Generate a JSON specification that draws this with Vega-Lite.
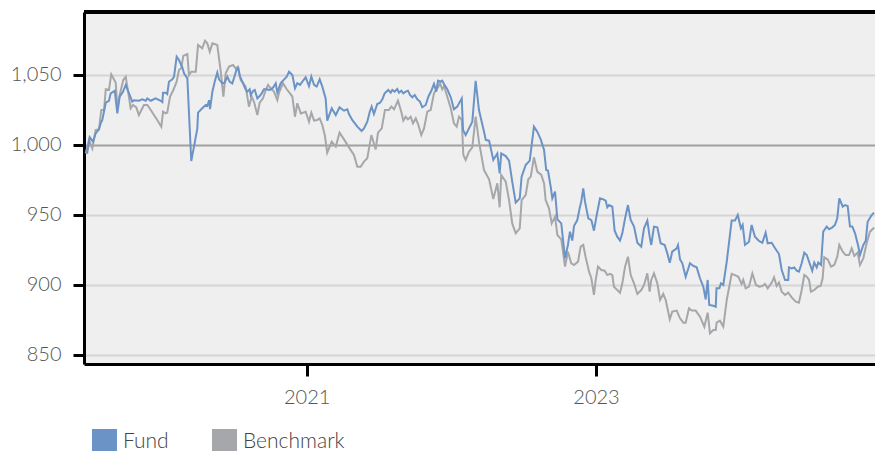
{
"$schema": "https://vega.github.io/schema/vega-lite/v6.json",
"width": 791, "height": 352,
"autosize": {"type": "none"},
"padding": {"left": 84, "top": 12, "right": 0, "bottom": 87},
"background": "#ffffff",
"config": {"view": {"fill": "#efefef", "stroke": null}, "font": "Lato"},
"data": {"values": [
{"s":"Benchmark","t":2019.472,"v":994},{"s":"Benchmark","t":2019.495,"v":1003.6},{"s":"Benchmark","t":2019.518,"v":997.6},{"s":"Benchmark","t":2019.541,"v":1010.7},{"s":"Benchmark","t":2019.564,"v":1011.2},{"s":"Benchmark","t":2019.580,"v":1025},{"s":"Benchmark","t":2019.599,"v":1025},{"s":"Benchmark","t":2019.611,"v":1039.8},{"s":"Benchmark","t":2019.633,"v":1039.3},{"s":"Benchmark","t":2019.649,"v":1050.5},{"s":"Benchmark","t":2019.680,"v":1044.5},{"s":"Benchmark","t":2019.691,"v":1026.2},{"s":"Benchmark","t":2019.707,"v":1035.7},{"s":"Benchmark","t":2019.732,"v":1046.4},{"s":"Benchmark","t":2019.749,"v":1048.8},{"s":"Benchmark","t":2019.767,"v":1037},{"s":"Benchmark","t":2019.783,"v":1026.2},{"s":"Benchmark","t":2019.799,"v":1028.6},{"s":"Benchmark","t":2019.822,"v":1026.9},{"s":"Benchmark","t":2019.840,"v":1021.4},{"s":"Benchmark","t":2019.875,"v":1028.6},{"s":"Benchmark","t":2019.898,"v":1028.6},{"s":"Benchmark","t":2019.922,"v":1025},{"s":"Benchmark","t":2019.944,"v":1021.4},{"s":"Benchmark","t":2019.967,"v":1017.9},{"s":"Benchmark","t":2019.995,"v":1013.1},{"s":"Benchmark","t":2020.007,"v":1023.8},{"s":"Benchmark","t":2020.025,"v":1022.6},{"s":"Benchmark","t":2020.036,"v":1023.1},{"s":"Benchmark","t":2020.055,"v":1034.5},{"s":"Benchmark","t":2020.078,"v":1039.3},{"s":"Benchmark","t":2020.101,"v":1045.2},{"s":"Benchmark","t":2020.117,"v":1053.6},{"s":"Benchmark","t":2020.133,"v":1054.8},{"s":"Benchmark","t":2020.147,"v":1063.6},{"s":"Benchmark","t":2020.175,"v":1065},{"s":"Benchmark","t":2020.186,"v":1050},{"s":"Benchmark","t":2020.202,"v":1052.4},{"s":"Benchmark","t":2020.233,"v":1052.4},{"s":"Benchmark","t":2020.249,"v":1071.4},{"s":"Benchmark","t":2020.278,"v":1069},{"s":"Benchmark","t":2020.297,"v":1074.5},{"s":"Benchmark","t":2020.313,"v":1072.6},{"s":"Benchmark","t":2020.330,"v":1066.6},{"s":"Benchmark","t":2020.348,"v":1072.6},{"s":"Benchmark","t":2020.382,"v":1071.4},{"s":"Benchmark","t":2020.406,"v":1052.4},{"s":"Benchmark","t":2020.424,"v":1034.5},{"s":"Benchmark","t":2020.440,"v":1051.2},{"s":"Benchmark","t":2020.463,"v":1056},{"s":"Benchmark","t":2020.491,"v":1057.1},{"s":"Benchmark","t":2020.509,"v":1054.8},{"s":"Benchmark","t":2020.525,"v":1056},{"s":"Benchmark","t":2020.544,"v":1046.4},{"s":"Benchmark","t":2020.562,"v":1044.1},{"s":"Benchmark","t":2020.578,"v":1041.7},{"s":"Benchmark","t":2020.601,"v":1027.4},{"s":"Benchmark","t":2020.620,"v":1034.5},{"s":"Benchmark","t":2020.636,"v":1030.9},{"s":"Benchmark","t":2020.659,"v":1021.4},{"s":"Benchmark","t":2020.675,"v":1030.2},{"s":"Benchmark","t":2020.698,"v":1033.3},{"s":"Benchmark","t":2020.717,"v":1039.3},{"s":"Benchmark","t":2020.733,"v":1042.9},{"s":"Benchmark","t":2020.751,"v":1040.5},{"s":"Benchmark","t":2020.774,"v":1038.1},{"s":"Benchmark","t":2020.797,"v":1032.1},{"s":"Benchmark","t":2020.809,"v":1037.4},{"s":"Benchmark","t":2020.836,"v":1044.1},{"s":"Benchmark","t":2020.862,"v":1039.8},{"s":"Benchmark","t":2020.885,"v":1036.9},{"s":"Benchmark","t":2020.901,"v":1034.5},{"s":"Benchmark","t":2020.919,"v":1020.2},{"s":"Benchmark","t":2020.935,"v":1029.8},{"s":"Benchmark","t":2020.959,"v":1022.6},{"s":"Benchmark","t":2020.993,"v":1023.8},{"s":"Benchmark","t":2021.016,"v":1016.7},{"s":"Benchmark","t":2021.032,"v":1023.1},{"s":"Benchmark","t":2021.051,"v":1017.4},{"s":"Benchmark","t":2021.073,"v":1017.9},{"s":"Benchmark","t":2021.090,"v":1019},{"s":"Benchmark","t":2021.108,"v":1014.3},{"s":"Benchmark","t":2021.125,"v":1007.1},{"s":"Benchmark","t":2021.142,"v":994.5},{"s":"Benchmark","t":2021.173,"v":1002.4},{"s":"Benchmark","t":2021.201,"v":998.8},{"s":"Benchmark","t":2021.227,"v":1008.8},{"s":"Benchmark","t":2021.258,"v":1004},{"s":"Benchmark","t":2021.292,"v":998.3},{"s":"Benchmark","t":2021.327,"v":992.9},{"s":"Benchmark","t":2021.350,"v":984.5},{"s":"Benchmark","t":2021.373,"v":984.5},{"s":"Benchmark","t":2021.396,"v":988.1},{"s":"Benchmark","t":2021.419,"v":990.5},{"s":"Benchmark","t":2021.447,"v":1007.1},{"s":"Benchmark","t":2021.477,"v":996.9},{"s":"Benchmark","t":2021.493,"v":1008.8},{"s":"Benchmark","t":2021.519,"v":1011.9},{"s":"Benchmark","t":2021.541,"v":1025},{"s":"Benchmark","t":2021.568,"v":1025},{"s":"Benchmark","t":2021.585,"v":1027.4},{"s":"Benchmark","t":2021.604,"v":1025.5},{"s":"Benchmark","t":2021.631,"v":1031.7},{"s":"Benchmark","t":2021.654,"v":1023.8},{"s":"Benchmark","t":2021.668,"v":1017.4},{"s":"Benchmark","t":2021.684,"v":1020.2},{"s":"Benchmark","t":2021.700,"v":1018.3},{"s":"Benchmark","t":2021.719,"v":1020.2},{"s":"Benchmark","t":2021.735,"v":1015.5},{"s":"Benchmark","t":2021.754,"v":1019},{"s":"Benchmark","t":2021.770,"v":1015},{"s":"Benchmark","t":2021.792,"v":1007.1},{"s":"Benchmark","t":2021.811,"v":1011.9},{"s":"Benchmark","t":2021.834,"v":1023.8},{"s":"Benchmark","t":2021.857,"v":1025},{"s":"Benchmark","t":2021.880,"v":1036.9},{"s":"Benchmark","t":2021.896,"v":1039.8},{"s":"Benchmark","t":2021.908,"v":1041.2},{"s":"Benchmark","t":2021.922,"v":1044.1},{"s":"Benchmark","t":2021.937,"v":1039.8},{"s":"Benchmark","t":2021.949,"v":1042.1},{"s":"Benchmark","t":2021.972,"v":1034.5},{"s":"Benchmark","t":2021.996,"v":1026.2},{"s":"Benchmark","t":2022.018,"v":1015.5},{"s":"Benchmark","t":2022.037,"v":1013.1},{"s":"Benchmark","t":2022.053,"v":1020.2},{"s":"Benchmark","t":2022.072,"v":1017.9},{"s":"Benchmark","t":2022.083,"v":992.9},{"s":"Benchmark","t":2022.099,"v":989.3},{"s":"Benchmark","t":2022.122,"v":995.2},{"s":"Benchmark","t":2022.145,"v":998.3},{"s":"Benchmark","t":2022.168,"v":1020.2},{"s":"Benchmark","t":2022.191,"v":1002.4},{"s":"Benchmark","t":2022.226,"v":982.1},{"s":"Benchmark","t":2022.261,"v":975.5},{"s":"Benchmark","t":2022.290,"v":961.4},{"s":"Benchmark","t":2022.318,"v":972.6},{"s":"Benchmark","t":2022.334,"v":955.5},{"s":"Benchmark","t":2022.345,"v":978.6},{"s":"Benchmark","t":2022.376,"v":973.8},{"s":"Benchmark","t":2022.399,"v":960.7},{"s":"Benchmark","t":2022.421,"v":944},{"s":"Benchmark","t":2022.445,"v":936.9},{"s":"Benchmark","t":2022.473,"v":940.5},{"s":"Benchmark","t":2022.486,"v":960.7},{"s":"Benchmark","t":2022.514,"v":964.3},{"s":"Benchmark","t":2022.532,"v":975.5},{"s":"Benchmark","t":2022.549,"v":977.4},{"s":"Benchmark","t":2022.571,"v":991.2},{"s":"Benchmark","t":2022.594,"v":981},{"s":"Benchmark","t":2022.622,"v":978.6},{"s":"Benchmark","t":2022.641,"v":972.6},{"s":"Benchmark","t":2022.652,"v":960.7},{"s":"Benchmark","t":2022.675,"v":954.8},{"s":"Benchmark","t":2022.694,"v":944},{"s":"Benchmark","t":2022.717,"v":948.8},{"s":"Benchmark","t":2022.733,"v":935.7},{"s":"Benchmark","t":2022.760,"v":932.6},{"s":"Benchmark","t":2022.786,"v":913.1},{"s":"Benchmark","t":2022.806,"v":923.8},{"s":"Benchmark","t":2022.829,"v":915.5},{"s":"Benchmark","t":2022.848,"v":914.3},{"s":"Benchmark","t":2022.876,"v":916.7},{"s":"Benchmark","t":2022.894,"v":927.4},{"s":"Benchmark","t":2022.912,"v":928.6},{"s":"Benchmark","t":2022.928,"v":920.2},{"s":"Benchmark","t":2022.952,"v":909.5},{"s":"Benchmark","t":2022.968,"v":904.8},{"s":"Benchmark","t":2022.986,"v":892.9},{"s":"Benchmark","t":2022.998,"v":903.6},{"s":"Benchmark","t":2023.014,"v":913.1},{"s":"Benchmark","t":2023.037,"v":910.7},{"s":"Benchmark","t":2023.060,"v":910.2},{"s":"Benchmark","t":2023.078,"v":907.1},{"s":"Benchmark","t":2023.097,"v":907.9},{"s":"Benchmark","t":2023.113,"v":907.1},{"s":"Benchmark","t":2023.124,"v":898.8},{"s":"Benchmark","t":2023.147,"v":896.4},{"s":"Benchmark","t":2023.166,"v":894.5},{"s":"Benchmark","t":2023.182,"v":901.2},{"s":"Benchmark","t":2023.201,"v":913.1},{"s":"Benchmark","t":2023.221,"v":920.2},{"s":"Benchmark","t":2023.240,"v":907.1},{"s":"Benchmark","t":2023.263,"v":901.2},{"s":"Benchmark","t":2023.286,"v":893.6},{"s":"Benchmark","t":2023.313,"v":896.4},{"s":"Benchmark","t":2023.332,"v":900},{"s":"Benchmark","t":2023.355,"v":908.3},{"s":"Benchmark","t":2023.371,"v":895.2},{"s":"Benchmark","t":2023.382,"v":903.6},{"s":"Benchmark","t":2023.401,"v":908.3},{"s":"Benchmark","t":2023.424,"v":901.2},{"s":"Benchmark","t":2023.443,"v":889.3},{"s":"Benchmark","t":2023.465,"v":893.6},{"s":"Benchmark","t":2023.482,"v":889.3},{"s":"Benchmark","t":2023.510,"v":875.5},{"s":"Benchmark","t":2023.527,"v":881},{"s":"Benchmark","t":2023.558,"v":881.7},{"s":"Benchmark","t":2023.581,"v":876.2},{"s":"Benchmark","t":2023.604,"v":873.1},{"s":"Benchmark","t":2023.620,"v":873.1},{"s":"Benchmark","t":2023.643,"v":883.3},{"s":"Benchmark","t":2023.662,"v":881.7},{"s":"Benchmark","t":2023.689,"v":881.7},{"s":"Benchmark","t":2023.719,"v":877.4},{"s":"Benchmark","t":2023.749,"v":870.2},{"s":"Benchmark","t":2023.772,"v":880.2},{"s":"Benchmark","t":2023.788,"v":865.5},{"s":"Benchmark","t":2023.811,"v":867.9},{"s":"Benchmark","t":2023.828,"v":867.9},{"s":"Benchmark","t":2023.834,"v":873.1},{"s":"Benchmark","t":2023.857,"v":874.5},{"s":"Benchmark","t":2023.880,"v":870.2},{"s":"Benchmark","t":2023.904,"v":889.3},{"s":"Benchmark","t":2023.938,"v":907.9},{"s":"Benchmark","t":2023.961,"v":907.1},{"s":"Benchmark","t":2023.984,"v":905.9},{"s":"Benchmark","t":2024.007,"v":900.7},{"s":"Benchmark","t":2024.018,"v":903.6},{"s":"Benchmark","t":2024.035,"v":897.6},{"s":"Benchmark","t":2024.058,"v":898.8},{"s":"Benchmark","t":2024.081,"v":908.3},{"s":"Benchmark","t":2024.106,"v":900},{"s":"Benchmark","t":2024.129,"v":898.8},{"s":"Benchmark","t":2024.150,"v":899.3},{"s":"Benchmark","t":2024.168,"v":900.7},{"s":"Benchmark","t":2024.187,"v":897.6},{"s":"Benchmark","t":2024.215,"v":901.7},{"s":"Benchmark","t":2024.231,"v":905.5},{"s":"Benchmark","t":2024.249,"v":899.3},{"s":"Benchmark","t":2024.265,"v":901.7},{"s":"Benchmark","t":2024.284,"v":895.2},{"s":"Benchmark","t":2024.307,"v":892.9},{"s":"Benchmark","t":2024.329,"v":894.5},{"s":"Benchmark","t":2024.353,"v":891.2},{"s":"Benchmark","t":2024.381,"v":888.1},{"s":"Benchmark","t":2024.403,"v":887.4},{"s":"Benchmark","t":2024.422,"v":896.4},{"s":"Benchmark","t":2024.440,"v":907.1},{"s":"Benchmark","t":2024.457,"v":905.9},{"s":"Benchmark","t":2024.473,"v":903.6},{"s":"Benchmark","t":2024.486,"v":895.2},{"s":"Benchmark","t":2024.509,"v":896.4},{"s":"Benchmark","t":2024.533,"v":898.8},{"s":"Benchmark","t":2024.553,"v":899.3},{"s":"Benchmark","t":2024.567,"v":904.8},{"s":"Benchmark","t":2024.578,"v":919.8},{"s":"Benchmark","t":2024.602,"v":918.3},{"s":"Benchmark","t":2024.625,"v":913.1},{"s":"Benchmark","t":2024.647,"v":914.3},{"s":"Benchmark","t":2024.668,"v":920.2},{"s":"Benchmark","t":2024.682,"v":928.6},{"s":"Benchmark","t":2024.706,"v":923.8},{"s":"Benchmark","t":2024.726,"v":921.4},{"s":"Benchmark","t":2024.749,"v":921.4},{"s":"Benchmark","t":2024.768,"v":926.2},{"s":"Benchmark","t":2024.786,"v":920.7},{"s":"Benchmark","t":2024.809,"v":923.1},{"s":"Benchmark","t":2024.825,"v":914.3},{"s":"Benchmark","t":2024.848,"v":919},{"s":"Benchmark","t":2024.871,"v":929.8},{"s":"Benchmark","t":2024.894,"v":938.1},{"s":"Benchmark","t":2024.924,"v":941},
{"s":"Fund","t":2019.472,"v":995.2},{"s":"Fund","t":2019.483,"v":994.5},{"s":"Fund","t":2019.500,"v":1005.5},{"s":"Fund","t":2019.523,"v":1002.4},{"s":"Fund","t":2019.541,"v":1008.3},{"s":"Fund","t":2019.564,"v":1011.2},{"s":"Fund","t":2019.576,"v":1015.5},{"s":"Fund","t":2019.587,"v":1017.9},{"s":"Fund","t":2019.611,"v":1030.2},{"s":"Fund","t":2019.633,"v":1031.6},{"s":"Fund","t":2019.645,"v":1036.9},{"s":"Fund","t":2019.673,"v":1038.8},{"s":"Fund","t":2019.691,"v":1022.6},{"s":"Fund","t":2019.707,"v":1034.5},{"s":"Fund","t":2019.730,"v":1038.1},{"s":"Fund","t":2019.749,"v":1042.9},{"s":"Fund","t":2019.767,"v":1038.1},{"s":"Fund","t":2019.794,"v":1031},{"s":"Fund","t":2019.806,"v":1032},{"s":"Fund","t":2019.840,"v":1031.6},{"s":"Fund","t":2019.864,"v":1032.6},{"s":"Fund","t":2019.887,"v":1031.6},{"s":"Fund","t":2019.898,"v":1033.3},{"s":"Fund","t":2019.922,"v":1031.6},{"s":"Fund","t":2019.956,"v":1033.3},{"s":"Fund","t":2019.991,"v":1031.6},{"s":"Fund","t":2020.002,"v":1030.7},{"s":"Fund","t":2020.007,"v":1037.4},{"s":"Fund","t":2020.025,"v":1037.4},{"s":"Fund","t":2020.036,"v":1036.4},{"s":"Fund","t":2020.048,"v":1045.2},{"s":"Fund","t":2020.071,"v":1046.9},{"s":"Fund","t":2020.083,"v":1048.8},{"s":"Fund","t":2020.101,"v":1063.1},{"s":"Fund","t":2020.117,"v":1060.7},{"s":"Fund","t":2020.140,"v":1055.5},{"s":"Fund","t":2020.152,"v":1051.2},{"s":"Fund","t":2020.175,"v":1047.6},{"s":"Fund","t":2020.202,"v":988.6},{"s":"Fund","t":2020.221,"v":998.8},{"s":"Fund","t":2020.244,"v":1011.9},{"s":"Fund","t":2020.249,"v":1023.1},{"s":"Fund","t":2020.278,"v":1026.2},{"s":"Fund","t":2020.302,"v":1028.6},{"s":"Fund","t":2020.313,"v":1027.9},{"s":"Fund","t":2020.325,"v":1032},{"s":"Fund","t":2020.332,"v":1025.7},{"s":"Fund","t":2020.348,"v":1038.1},{"s":"Fund","t":2020.364,"v":1045.2},{"s":"Fund","t":2020.382,"v":1051.7},{"s":"Fund","t":2020.394,"v":1046.9},{"s":"Fund","t":2020.417,"v":1044.1},{"s":"Fund","t":2020.433,"v":1044.5},{"s":"Fund","t":2020.451,"v":1048.8},{"s":"Fund","t":2020.468,"v":1045.2},{"s":"Fund","t":2020.486,"v":1044},{"s":"Fund","t":2020.502,"v":1049.3},{"s":"Fund","t":2020.516,"v":1054.1},{"s":"Fund","t":2020.527,"v":1054.8},{"s":"Fund","t":2020.537,"v":1049.3},{"s":"Fund","t":2020.555,"v":1045.2},{"s":"Fund","t":2020.574,"v":1040.5},{"s":"Fund","t":2020.589,"v":1038.1},{"s":"Fund","t":2020.606,"v":1039.8},{"s":"Fund","t":2020.613,"v":1035.7},{"s":"Fund","t":2020.629,"v":1038.6},{"s":"Fund","t":2020.641,"v":1039.3},{"s":"Fund","t":2020.659,"v":1033.3},{"s":"Fund","t":2020.675,"v":1035},{"s":"Fund","t":2020.689,"v":1036.9},{"s":"Fund","t":2020.705,"v":1039.8},{"s":"Fund","t":2020.723,"v":1039.8},{"s":"Fund","t":2020.739,"v":1039.3},{"s":"Fund","t":2020.755,"v":1039.8},{"s":"Fund","t":2020.769,"v":1041.2},{"s":"Fund","t":2020.786,"v":1044.1},{"s":"Fund","t":2020.797,"v":1037.4},{"s":"Fund","t":2020.820,"v":1044.1},{"s":"Fund","t":2020.836,"v":1046},{"s":"Fund","t":2020.862,"v":1048.8},{"s":"Fund","t":2020.878,"v":1052.4},{"s":"Fund","t":2020.901,"v":1050},{"s":"Fund","t":2020.919,"v":1040.5},{"s":"Fund","t":2020.935,"v":1044.1},{"s":"Fund","t":2020.954,"v":1042.9},{"s":"Fund","t":2020.970,"v":1045.2},{"s":"Fund","t":2020.993,"v":1048.3},{"s":"Fund","t":2021.016,"v":1042.1},{"s":"Fund","t":2021.032,"v":1048.8},{"s":"Fund","t":2021.051,"v":1042.9},{"s":"Fund","t":2021.069,"v":1041.7},{"s":"Fund","t":2021.090,"v":1046.9},{"s":"Fund","t":2021.108,"v":1041.7},{"s":"Fund","t":2021.131,"v":1033.3},{"s":"Fund","t":2021.142,"v":1017.4},{"s":"Fund","t":2021.173,"v":1026.2},{"s":"Fund","t":2021.201,"v":1021.4},{"s":"Fund","t":2021.227,"v":1026.9},{"s":"Fund","t":2021.258,"v":1024.5},{"s":"Fund","t":2021.281,"v":1025.5},{"s":"Fund","t":2021.292,"v":1022.1},{"s":"Fund","t":2021.315,"v":1017.9},{"s":"Fund","t":2021.350,"v":1013.1},{"s":"Fund","t":2021.380,"v":1010},{"s":"Fund","t":2021.396,"v":1011.9},{"s":"Fund","t":2021.419,"v":1016.7},{"s":"Fund","t":2021.436,"v":1023.8},{"s":"Fund","t":2021.449,"v":1027.4},{"s":"Fund","t":2021.465,"v":1022.1},{"s":"Fund","t":2021.488,"v":1029.3},{"s":"Fund","t":2021.507,"v":1030.2},{"s":"Fund","t":2021.523,"v":1032.6},{"s":"Fund","t":2021.539,"v":1036.9},{"s":"Fund","t":2021.564,"v":1039.3},{"s":"Fund","t":2021.581,"v":1037.4},{"s":"Fund","t":2021.592,"v":1039.3},{"s":"Fund","t":2021.608,"v":1038.1},{"s":"Fund","t":2021.626,"v":1040},{"s":"Fund","t":2021.638,"v":1037.4},{"s":"Fund","t":2021.654,"v":1038.8},{"s":"Fund","t":2021.668,"v":1036.9},{"s":"Fund","t":2021.684,"v":1038.1},{"s":"Fund","t":2021.700,"v":1038.8},{"s":"Fund","t":2021.714,"v":1035.7},{"s":"Fund","t":2021.730,"v":1034.1},{"s":"Fund","t":2021.747,"v":1035.7},{"s":"Fund","t":2021.765,"v":1032.6},{"s":"Fund","t":2021.783,"v":1031},{"s":"Fund","t":2021.799,"v":1026.9},{"s":"Fund","t":2021.823,"v":1028.6},{"s":"Fund","t":2021.841,"v":1034.5},{"s":"Fund","t":2021.864,"v":1039.3},{"s":"Fund","t":2021.880,"v":1043.6},{"s":"Fund","t":2021.896,"v":1038.1},{"s":"Fund","t":2021.908,"v":1045.9},{"s":"Fund","t":2021.926,"v":1045.2},{"s":"Fund","t":2021.937,"v":1045.9},{"s":"Fund","t":2021.949,"v":1043.6},{"s":"Fund","t":2021.972,"v":1039.8},{"s":"Fund","t":2021.996,"v":1034.1},{"s":"Fund","t":2022.018,"v":1025.5},{"s":"Fund","t":2022.041,"v":1027.4},{"s":"Fund","t":2022.072,"v":1033.3},{"s":"Fund","t":2022.081,"v":1010.7},{"s":"Fund","t":2022.099,"v":1007.1},{"s":"Fund","t":2022.122,"v":1011.9},{"s":"Fund","t":2022.145,"v":1016.7},{"s":"Fund","t":2022.168,"v":1045.9},{"s":"Fund","t":2022.191,"v":1025},{"s":"Fund","t":2022.226,"v":1009.5},{"s":"Fund","t":2022.238,"v":1003.6},{"s":"Fund","t":2022.261,"v":1003.1},{"s":"Fund","t":2022.290,"v":989.3},{"s":"Fund","t":2022.318,"v":994},{"s":"Fund","t":2022.334,"v":979.8},{"s":"Fund","t":2022.345,"v":994},{"s":"Fund","t":2022.376,"v":992.1},{"s":"Fund","t":2022.399,"v":988.8},{"s":"Fund","t":2022.421,"v":973.8},{"s":"Fund","t":2022.445,"v":958.8},{"s":"Fund","t":2022.473,"v":961.9},{"s":"Fund","t":2022.486,"v":977.4},{"s":"Fund","t":2022.514,"v":985.7},{"s":"Fund","t":2022.542,"v":988.8},{"s":"Fund","t":2022.571,"v":1013.1},{"s":"Fund","t":2022.594,"v":1009.5},{"s":"Fund","t":2022.618,"v":1004},{"s":"Fund","t":2022.641,"v":996.4},{"s":"Fund","t":2022.656,"v":982.1},{"s":"Fund","t":2022.668,"v":981.7},{"s":"Fund","t":2022.687,"v":970.2},{"s":"Fund","t":2022.698,"v":961.9},{"s":"Fund","t":2022.717,"v":966.7},{"s":"Fund","t":2022.733,"v":946.9},{"s":"Fund","t":2022.760,"v":944},{"s":"Fund","t":2022.786,"v":919},{"s":"Fund","t":2022.806,"v":928.6},{"s":"Fund","t":2022.820,"v":938.1},{"s":"Fund","t":2022.836,"v":931.7},{"s":"Fund","t":2022.848,"v":942.1},{"s":"Fund","t":2022.871,"v":946.4},{"s":"Fund","t":2022.887,"v":954.8},{"s":"Fund","t":2022.898,"v":959.5},{"s":"Fund","t":2022.912,"v":969},{"s":"Fund","t":2022.924,"v":959.5},{"s":"Fund","t":2022.947,"v":947.6},{"s":"Fund","t":2022.968,"v":946.4},{"s":"Fund","t":2022.986,"v":938.8},{"s":"Fund","t":2023.005,"v":950},{"s":"Fund","t":2023.028,"v":961.9},{"s":"Fund","t":2023.051,"v":961.2},{"s":"Fund","t":2023.067,"v":960.2},{"s":"Fund","t":2023.078,"v":955.5},{"s":"Fund","t":2023.090,"v":957.1},{"s":"Fund","t":2023.113,"v":955.9},{"s":"Fund","t":2023.129,"v":938.8},{"s":"Fund","t":2023.147,"v":934.5},{"s":"Fund","t":2023.166,"v":931.7},{"s":"Fund","t":2023.182,"v":936.9},{"s":"Fund","t":2023.201,"v":947.6},{"s":"Fund","t":2023.221,"v":957.1},{"s":"Fund","t":2023.240,"v":946.4},{"s":"Fund","t":2023.263,"v":941.7},{"s":"Fund","t":2023.286,"v":930.2},{"s":"Fund","t":2023.313,"v":927.4},{"s":"Fund","t":2023.332,"v":940.5},{"s":"Fund","t":2023.355,"v":946},{"s":"Fund","t":2023.371,"v":934.5},{"s":"Fund","t":2023.382,"v":928.6},{"s":"Fund","t":2023.401,"v":941.7},{"s":"Fund","t":2023.424,"v":941.2},{"s":"Fund","t":2023.447,"v":929.8},{"s":"Fund","t":2023.475,"v":928.6},{"s":"Fund","t":2023.493,"v":922.6},{"s":"Fund","t":2023.510,"v":915.9},{"s":"Fund","t":2023.527,"v":923.8},{"s":"Fund","t":2023.558,"v":926.2},{"s":"Fund","t":2023.567,"v":928.5},{"s":"Fund","t":2023.581,"v":918.3},{"s":"Fund","t":2023.597,"v":915.5},{"s":"Fund","t":2023.620,"v":905.9},{"s":"Fund","t":2023.650,"v":915.5},{"s":"Fund","t":2023.673,"v":913.6},{"s":"Fund","t":2023.696,"v":912.6},{"s":"Fund","t":2023.719,"v":904.8},{"s":"Fund","t":2023.742,"v":898.8},{"s":"Fund","t":2023.758,"v":889.8},{"s":"Fund","t":2023.772,"v":903.6},{"s":"Fund","t":2023.783,"v":885.7},{"s":"Fund","t":2023.811,"v":885.2},{"s":"Fund","t":2023.828,"v":884.5},{"s":"Fund","t":2023.833,"v":897.6},{"s":"Fund","t":2023.853,"v":897.6},{"s":"Fund","t":2023.864,"v":901.2},{"s":"Fund","t":2023.880,"v":900},{"s":"Fund","t":2023.904,"v":916.7},{"s":"Fund","t":2023.938,"v":946},{"s":"Fund","t":2023.961,"v":946},{"s":"Fund","t":2023.980,"v":950},{"s":"Fund","t":2024.002,"v":940.5},{"s":"Fund","t":2024.014,"v":942.9},{"s":"Fund","t":2024.030,"v":928.6},{"s":"Fund","t":2024.058,"v":930.9},{"s":"Fund","t":2024.076,"v":942.9},{"s":"Fund","t":2024.099,"v":934.5},{"s":"Fund","t":2024.127,"v":931.4},{"s":"Fund","t":2024.150,"v":930.2},{"s":"Fund","t":2024.173,"v":937.4},{"s":"Fund","t":2024.187,"v":929.8},{"s":"Fund","t":2024.215,"v":930.2},{"s":"Fund","t":2024.238,"v":926.2},{"s":"Fund","t":2024.265,"v":922.1},{"s":"Fund","t":2024.284,"v":910.7},{"s":"Fund","t":2024.307,"v":903.6},{"s":"Fund","t":2024.329,"v":903.6},{"s":"Fund","t":2024.334,"v":912.6},{"s":"Fund","t":2024.353,"v":911.9},{"s":"Fund","t":2024.371,"v":912.6},{"s":"Fund","t":2024.388,"v":910.2},{"s":"Fund","t":2024.403,"v":909.5},{"s":"Fund","t":2024.422,"v":915.5},{"s":"Fund","t":2024.440,"v":923.1},{"s":"Fund","t":2024.457,"v":921.4},{"s":"Fund","t":2024.473,"v":916.7},{"s":"Fund","t":2024.495,"v":910.2},{"s":"Fund","t":2024.509,"v":916},{"s":"Fund","t":2024.526,"v":912.6},{"s":"Fund","t":2024.537,"v":916},{"s":"Fund","t":2024.556,"v":914.3},{"s":"Fund","t":2024.571,"v":938.1},{"s":"Fund","t":2024.595,"v":941.7},{"s":"Fund","t":2024.611,"v":939.8},{"s":"Fund","t":2024.634,"v":941.2},{"s":"Fund","t":2024.652,"v":942.9},{"s":"Fund","t":2024.668,"v":947.6},{"s":"Fund","t":2024.682,"v":961.9},{"s":"Fund","t":2024.706,"v":955.9},{"s":"Fund","t":2024.721,"v":957.1},{"s":"Fund","t":2024.740,"v":956.4},{"s":"Fund","t":2024.756,"v":941.7},{"s":"Fund","t":2024.772,"v":941.7},{"s":"Fund","t":2024.791,"v":936.9},{"s":"Fund","t":2024.813,"v":927.9},{"s":"Fund","t":2024.825,"v":921.4},{"s":"Fund","t":2024.848,"v":928.6},{"s":"Fund","t":2024.865,"v":931.7},{"s":"Fund","t":2024.878,"v":945.2},{"s":"Fund","t":2024.906,"v":950},{"s":"Fund","t":2024.922,"v":951.7}
]},
"layer": [
{
"mark": {"type": "line", "strokeWidth": 2, "clip": true},
"encoding": {
"x": {"field": "t", "type": "quantitative",
"scale": {"domain": [2019.4605, 2024.9289], "nice": false, "zero": false},
"axis": {"title": null, "values": [2021, 2023], "format": "d", "grid": false,
"domainColor": "#000000", "domainWidth": 3, "tickColor": "#000000", "tickWidth": 3, "tickSize": 12,
"labelFontSize": 20, "labelFontWeight": 300, "labelColor": "#555555", "labelPadding": 11, "labelFont": "Lato"}},
"y": {"field": "v", "type": "quantitative",
"scale": {"domain": [843.57, 1095], "nice": false, "zero": false},
"axis": {"title": null, "values": [850, 900, 950, 1000, 1050], "format": ",d",
"grid": true, "gridWidth": 2,
"gridColor": {"condition": {"test": "datum.value === 1000", "value": "#a0a0a0"}, "value": "#d5d5d5"},
"domainColor": "#000000", "domainWidth": 3, "tickColor": "#000000", "tickWidth": 3, "tickSize": 11,
"labelFontSize": 20, "labelFontWeight": 300, "labelColor": "#555555", "labelPadding": 12, "labelFont": "Lato"}},
"color": {"field": "s", "type": "nominal",
"scale": {"domain": ["Fund", "Benchmark"], "range": ["#6b93c6", "#a6a7aa"]},
"legend": {"title": null, "orient": "none", "legendX": 8, "legendY": 417, "direction": "horizontal",
"symbolType": "square", "symbolSize": 625, "labelFontSize": 21, "labelFontWeight": 300, "labelColor": "#444444", "labelFont": "Lato",
"labelOffset": 6, "columnPadding": 43, "padding": 0,
"encode": {"symbols": {"update": {"fill": {"scale": "color", "field": "value"}, "strokeWidth": {"value": 0}}}}}}
}
},
{
"mark": {"type": "rule", "color": "#000000", "strokeWidth": 3},
"encoding": {"y": {"datum": 1095}}
}
]
}
